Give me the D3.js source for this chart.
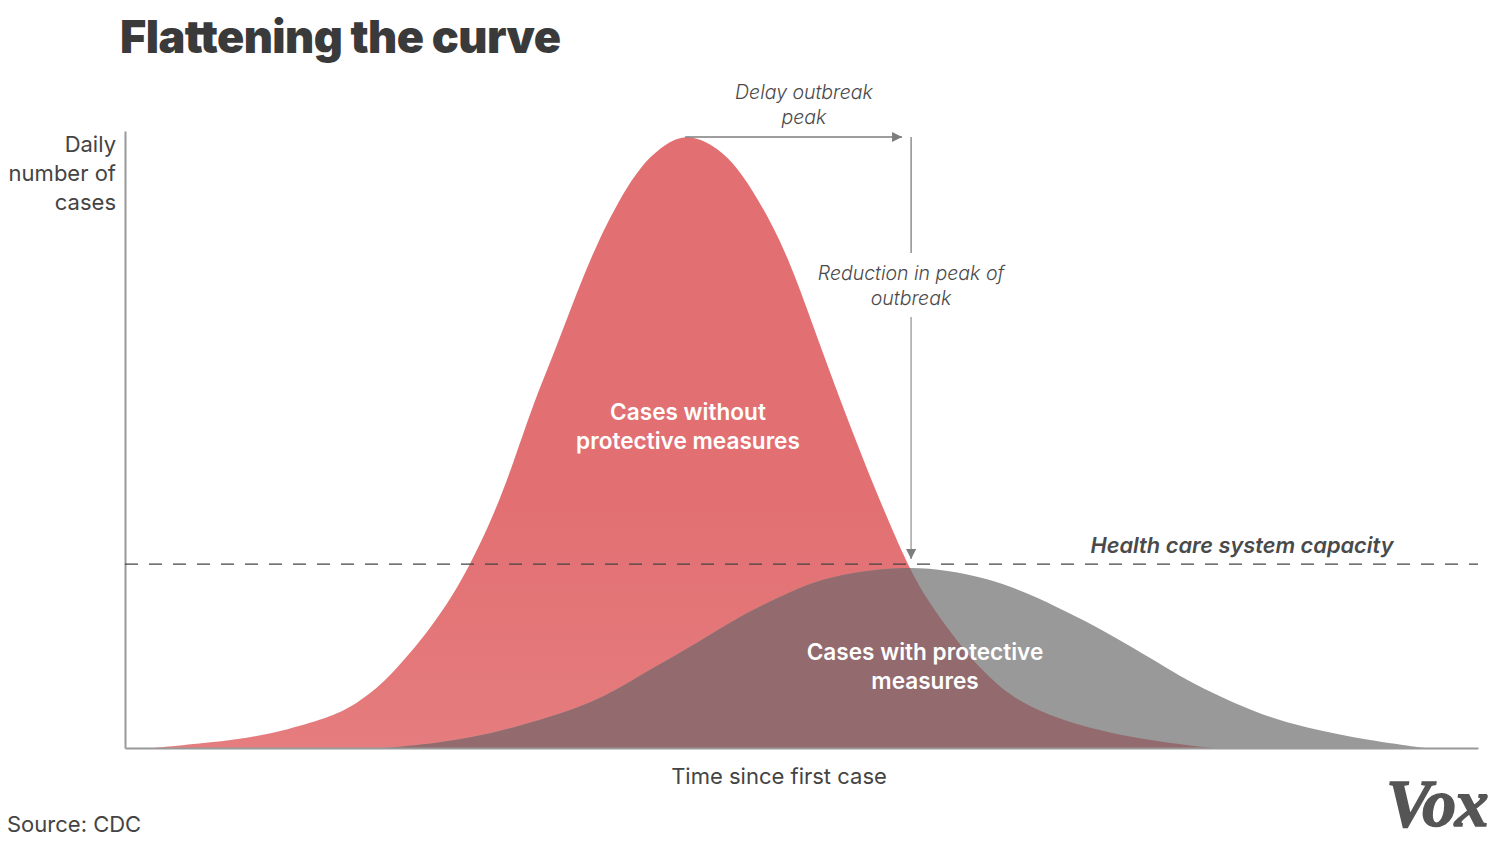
<!DOCTYPE html>
<html lang="en">
<head>
<meta charset="UTF-8">
<title>Flattening the curve</title>
<script src="https://d3js.org/d3.v7.min.js"></script>
<style>
    html, body { margin: 0; padding: 0; background: #fff; }
    svg { display: block; }
    text { font-family: Inter, "Noto Sans", sans-serif; }
    .note { font-size: 19.5px; font-style: italic; fill: #4a4a4a; text-anchor: middle; font-weight: 300; }
    .inside { font-size: 22.6px; font-weight: 600; fill: #fff; text-anchor: middle; }
    .label { font-size: 22px; fill: #444; font-weight: 400; }
</style>
</head>
<body>
<svg id="chart" width="1497" height="841"></svg>
<script>
// time and cases both as % of the axis length
const redTime = [2.07, 5.54, 8.72, 12.0, 15.4, 17.1, 19.1, 20.8, 22.0, 23.8, 25.4, 27.2, 28.7, 30.2, 31.8, 33.4, 34.9, 36.8, 38.1, 39.5, 41.4, 43.5, 44.9, 46.4, 47.9, 49.4, 51.5, 53.4, 55.6, 57.9, 59.3, 60.8, 62.2, 63.9, 65.6, 68.1, 71.8, 75.5, 79.5, 80.6];
const redCases = [0, 0.74, 1.47, 2.95, 5.24, 7.2, 10.6, 14.9, 18.0, 23.4, 29.5, 37.8, 46.6, 56.5, 65.1, 74.6, 82.7, 90.8, 95.1, 98.2, 100.7, 98.7, 96.0, 91.3, 85.4, 78.2, 65.1, 53.8, 41.4, 29.6, 24.2, 19.6, 15.5, 11.5, 8.3, 5.4, 2.9, 1.3, 0.16, 0];
const greyTime = [19.2, 22.0, 25.5, 28.7, 33.4, 36.1, 39.0, 42.3, 46.0, 48.4, 50.8, 53.8, 57.8, 60.8, 63.7, 66.7, 69.6, 72.1, 74.5, 77.0, 78.9, 81.9, 85.1, 88.1, 91.8, 96.1];
const greyCases = [0, 0.49, 1.64, 3.27, 6.38, 9.16, 13.1, 17.2, 22.3, 24.7, 27.2, 28.8, 29.7, 29.1, 27.8, 25.4, 22.3, 19.5, 16.4, 13.1, 10.6, 7.4, 4.6, 2.95, 1.3, 0];
const capacity = 30.1;
const peakTime = 41.4;
const delayedTime = 58.1;

const svg = d3.select("#chart");
const x = d3.scaleLinear().domain([0, 100]).range([125, 1478]);
const y = d3.scaleLinear().domain([0, 100]).range([748, 137]);

const area = d3.area()
    .x(d => x(d[0]))
    .y0(y(0))
    .y1(d => y(d[1]))
    .curve(d3.curveBasis);

const redData = d3.zip(redTime, redCases);
const greyData = d3.zip(greyTime, greyCases);

const defs = svg.append("defs");
const grad = defs.append("linearGradient")
    .attr("id", "redFill")
    .attr("x1", 0).attr("y1", 0).attr("x2", 0).attr("y2", 1);
grad.append("stop").attr("offset", "0%").attr("stop-color", "#e27073");
grad.append("stop").attr("offset", "60%").attr("stop-color", "#e27073");
grad.append("stop").attr("offset", "100%").attr("stop-color", "#e57c7d");
defs.append("clipPath").attr("id", "redClip")
    .append("path").attr("d", area(redData));
const marker = defs.append("marker")
    .attr("id", "arrow")
    .attr("viewBox", "0 0 10 10")
    .attr("refX", 10).attr("refY", 5)
    .attr("markerUnits", "userSpaceOnUse")
    .attr("markerWidth", 10).attr("markerHeight", 10)
    .attr("orient", "auto");
marker.append("path").attr("d", "M0,0L10,5L0,10Z").attr("fill", "#7d7d7d");

// curves, overlap is painted on its own so it gets the brownish tone
svg.append("path").attr("d", area(redData)).attr("fill", "url(#redFill)");
svg.append("path").attr("d", area(greyData)).attr("fill", "#999999");
svg.append("path").attr("d", area(greyData)).attr("fill", "#936a6d").attr("clip-path", "url(#redClip)");

// axes, no ticks on either
svg.append("g")
    .attr("transform", `translate(${x(0)},0)`)
    .call(d3.axisLeft(d3.scaleLinear().domain([0, 100]).range([748, 131])).tickValues([]).tickSizeOuter(0))
    .select(".domain").attr("stroke", "#999").attr("stroke-width", 2);
svg.append("g")
    .attr("transform", `translate(0,${y(0)})`)
    .call(d3.axisBottom(x).tickValues([]).tickSizeOuter(0))
    .select(".domain").attr("stroke", "#999").attr("stroke-width", 2);

// capacity line
svg.append("line")
    .attr("x1", x(0)).attr("x2", x(100))
    .attr("y1", y(capacity)).attr("y2", y(capacity))
    .attr("stroke", "#444").attr("stroke-width", 1.2)
    .attr("stroke-dasharray", "13 11");

// annotation arrows
svg.append("line")
    .attr("x1", x(peakTime)).attr("x2", x(delayedTime) - 9)
    .attr("y1", y(100)).attr("y2", y(100))
    .attr("stroke", "#7d7d7d").attr("stroke-width", 1.3)
    .attr("marker-end", "url(#arrow)");
svg.append("line")
    .attr("x1", x(delayedTime)).attr("x2", x(delayedTime))
    .attr("y1", y(100)).attr("y2", 253)
    .attr("stroke", "#7d7d7d").attr("stroke-width", 1.3);
svg.append("line")
    .attr("x1", x(delayedTime)).attr("x2", x(delayedTime))
    .attr("y1", 317).attr("y2", y(capacity) - 5)
    .attr("stroke", "#aaa").attr("stroke-width", 1.6)
    .attr("marker-end", "url(#arrow)");

function addText(str, px, py, cls, extra) {
    const t = svg.append("text").attr("x", px).attr("y", py).attr("class", cls).text(str);
    if (extra) extra(t);
    return t;
}

addText("Flattening the curve", 120, 53, "", t => t
    .attr("font-size", 45).attr("font-weight", 900).attr("fill", "#3a3a3a").attr("letter-spacing", -0.6));

addText("Daily", 116, 152, "label", t => t.attr("text-anchor", "end"));
addText("number of", 116, 181, "label", t => t.attr("text-anchor", "end"));
addText("cases", 116, 210, "label", t => t.attr("text-anchor", "end"));

addText("Delay outbreak", 804, 99, "note");
addText("peak", 804, 124, "note");
addText("Reduction in peak of", 911, 280, "note");
addText("outbreak", 911, 305, "note");

addText("Cases without", 688, 420, "inside");
addText("protective measures", 688, 449, "inside");
addText("Cases with protective", 925, 660, "inside");
addText("measures", 925, 689, "inside");

addText("Health care system capacity", 1242, 553, "", t => t
    .attr("text-anchor", "middle").attr("font-size", 21.8).attr("font-style", "italic")
    .attr("font-weight", 600).attr("fill", "#4a4a4a"));

addText("Time since first case", 779, 784, "label", t => t.attr("text-anchor", "middle"));
addText("Source: CDC", 7, 832, "label", t => t.attr("fill", "#555"));

addText("Vox", 1386, 826, "", t => t
    .style("font-family", '"Liberation Serif", serif')
    .attr("font-size", 68).attr("font-weight", 700).attr("font-style", "italic")
    .attr("letter-spacing", -1.5)
    .attr("fill", "#555").attr("stroke", "#555").attr("stroke-width", 1.5));
</script>
</body>
</html>
